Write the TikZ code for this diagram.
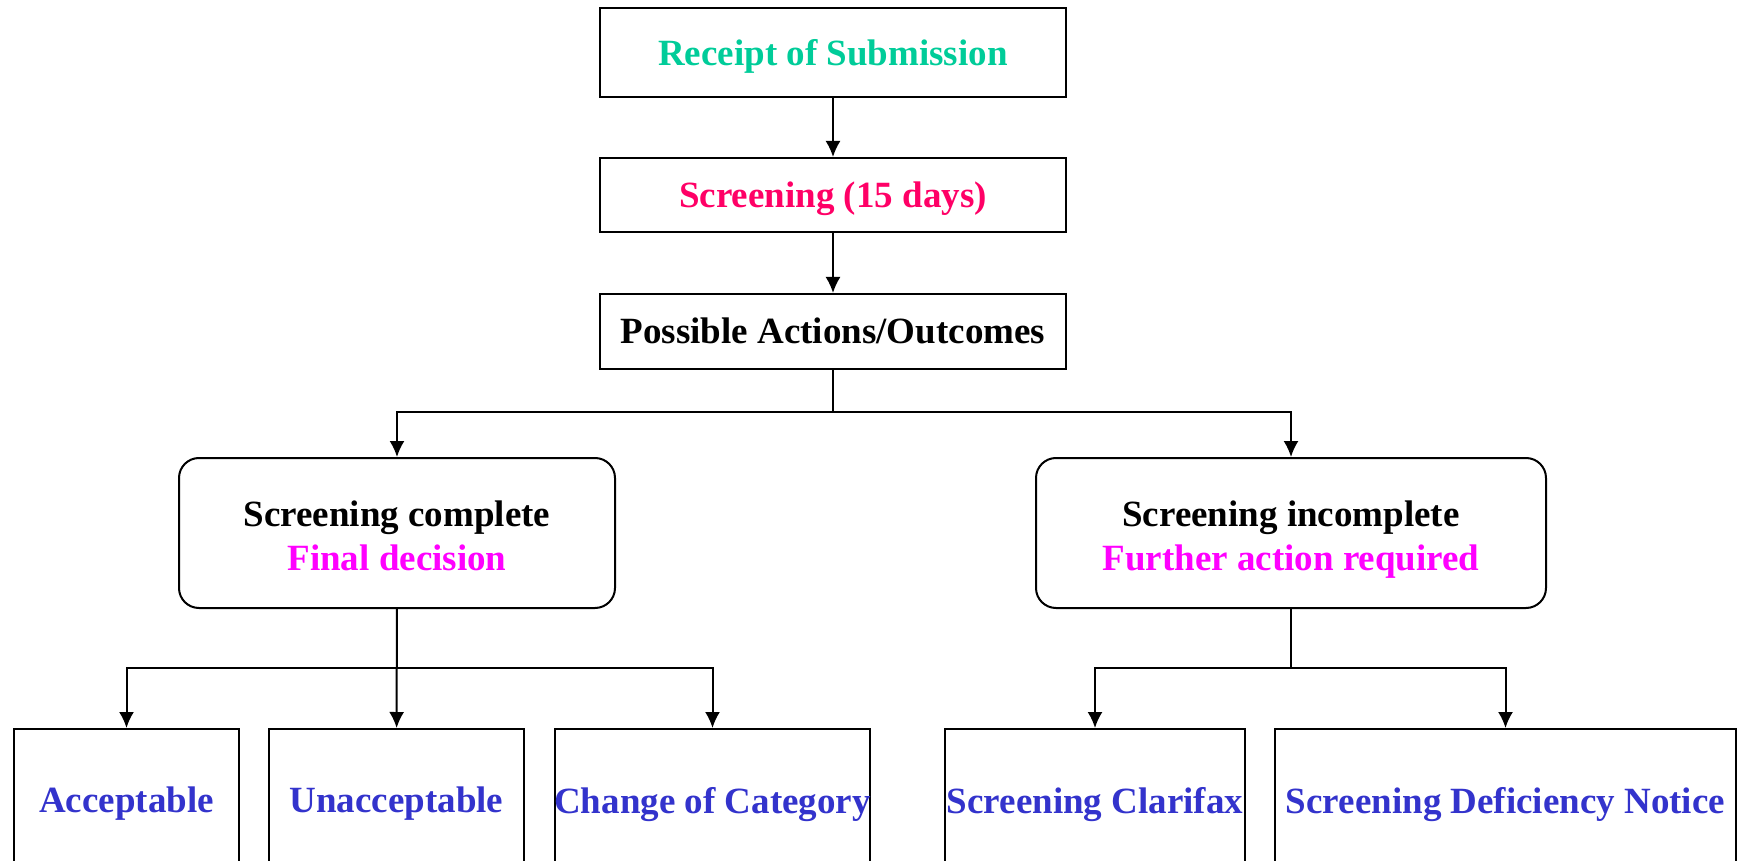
\documentclass[tikz,border=0pt]{standalone}
\usepackage{fontspec}
\setmainfont{Liberation Serif}
\usetikzlibrary{arrows.meta,positioning}
\definecolor{recgreen}{RGB}{0,204,153}
\definecolor{scrred}{RGB}{255,0,102}
\definecolor{decmag}{RGB}{255,0,255}
\definecolor{outblue}{RGB}{51,51,204}
\begin{document}
\begin{tikzpicture}[x=0.5pt,y=-0.5pt,>={Latex[length=8pt,width=7.5pt]},line width=1pt]
        \tikzset{block/.style= {draw, rectangle, align=center,minimum width=233pt,inner sep=0pt,
                 font=\fontsize{18.5}{22}\selectfont\bfseries},
        rblock/.style={draw, shape=rectangle,rounded corners=10pt,align=center,minimum height=75pt,inner sep=0pt,
                 text depth=0pt,font=\fontsize{18.5}{22}\selectfont\bfseries},
        oblock/.style={draw, rectangle, align=center,minimum height=71pt,inner sep=0pt,text=outblue,
                 text depth=0pt,font=\fontsize{18.5}{22}\selectfont\bfseries},
        }
        \useasboundingbox (0,0) rectangle (1746,861);
        \node [block, minimum height=44.5pt, text depth=0pt, text=recgreen] (receipt) at (833,52.5) {Receipt of Submission};
        \node [block, minimum height=37pt, text depth=0pt, text=scrred, below=29.5pt of receipt] (screen) {Screening (15 days)};
        \node [block, minimum height=37.3pt, below=30pt of screen] (poss) {Possible Actions/Outcomes};
        \node [rblock, minimum width=218pt] (complete) at (397,533) {\rule{0pt}{15pt}Screening complete\\\textcolor{decmag}{Final decision}};
        \node [rblock, minimum width=255pt] (incomplete) at (1291,533) {\rule{0pt}{15pt}Screening incomplete\\\textcolor{decmag}{Further action required}};
        \node [oblock, minimum width=112.5pt] (acc) at (126.5,800) {Acceptable};
        \node [oblock, minimum width=127.5pt] (unacc) at (396.5,800) {Unacceptable};
        \node [oblock, minimum width=157.5pt, inner xsep=-2pt] (change) at (712.5,800) {Change of Category};
        \node [oblock, minimum width=150pt] (clar) at (1095,800) {Screening Clarifax};
        \node [oblock, minimum width=230.5pt] (defic) at (1505.5,800) {Screening Deficiency Notice};
        \coordinate (split1) at (833,412);
        \coordinate (split2) at (397,668);
        \coordinate (split3) at (1291,668);
%%% paths
        \draw[->] (receipt) -- (screen);
        \draw[->] (screen) -- (poss);
        \draw (poss) -- (split1);
        \draw[->] (split1) -| (complete);
        \draw[->] (split1) -| (incomplete);
        \draw[->] (complete) -- (unacc);
        \draw[->] (split2) -| (acc);
        \draw[->] (split2) -| (change);
        \draw (incomplete) -- (split3);
        \draw[->] (split3) -| (clar);
        \draw[->] (split3) -| (defic);
    \end{tikzpicture}
\end{document}
